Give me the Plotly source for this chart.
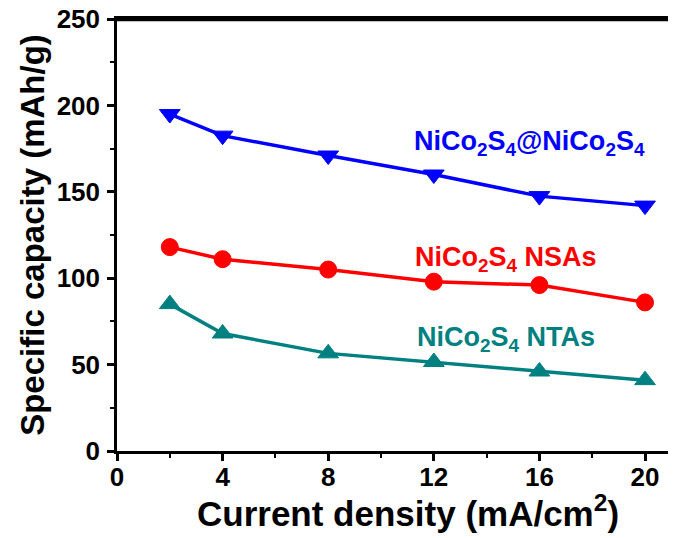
import plotly.graph_objects as go

# Current density (mA/cm^2)
current_density = [2, 4, 8, 12, 16, 20]

# Specific capacity (mAh/g) for each electrode
core_shell = [195, 182.5, 171, 160, 147.5, 142]
nsas = [118, 111, 105, 98, 96, 86]
ntas = [85, 68, 56.5, 51.5, 46, 41]

BLUE = "#0000FF"
RED = "#FF0000"
TEAL = "#008080"
FONT = "Liberation Sans, Arial, sans-serif"

fig = go.Figure()

series = [
    (core_shell, BLUE, "triangle-down", 18),
    (nsas, RED, "circle", 17),
    (ntas, TEAL, "triangle-up", 18),
]
for values, color, symbol, size in series:
    fig.add_trace(go.Scatter(
        x=current_density, y=values, mode="lines+markers",
        line=dict(color=color, width=3.5),
        marker=dict(symbol=symbol, size=size, color=color,
                    line=dict(color=color, width=1)),
        showlegend=False, cliponaxis=False,
    ))

labels = [
    ("NiCo<sub>2</sub>S<sub>4</sub>@NiCo<sub>2</sub>S<sub>4</sub>", BLUE, 11.16, 178),
    ("NiCo<sub>2</sub>S<sub>4</sub> NSAs", RED, 11.2, 111),
    ("NiCo<sub>2</sub>S<sub>4</sub> NTAs", TEAL, 11.29, 65),
]
for text, color, x, y in labels:
    fig.add_annotation(
        x=x, y=y, xref="x", yref="y", text=text, showarrow=False,
        xanchor="left", yanchor="middle",
        font=dict(family=FONT, size=27, color=color, weight="bold"),
    )

# x-axis title
fig.add_annotation(
    x=0.528, y=0, xref="paper", yref="paper", yshift=-60,
    text="Current density (mA/cm<sup>2</sup>)", showarrow=False,
    xanchor="center", yanchor="middle",
    font=dict(family=FONT, size=35, color="black", weight="bold"),
)

# top frame line
fig.add_shape(type="line", xref="x", yref="y", x0=0, x1=20.87, y0=249.4, y1=249.4,
              line=dict(color="black", width=2.5), layer="above")

axis_common = dict(
    showgrid=False, zeroline=False, automargin=False,
    showline=True, linecolor="black", linewidth=2.5,
    ticks="outside", ticklen=7, tickwidth=2.5, tickcolor="black",
    tickfont=dict(family=FONT, size=26, color="black", weight="bold"),
)

fig.update_xaxes(
    range=[0, 20.87], tickvals=[0, 4, 8, 12, 16, 20], mirror=True,
    minor=dict(tickvals=[2, 6, 10, 14, 18], ticks="outside", ticklen=4,
               tickwidth=2, tickcolor="black"),
    ticklabelstandoff=-6,
    **axis_common,
)
fig.update_yaxes(
    range=[0, 250], tickvals=[0, 50, 100, 150, 200, 250],
    minor=dict(tickvals=[25, 75, 125, 175, 225], ticks="outside", ticklen=4,
               tickwidth=2, tickcolor="black"),
    ticklabelstandoff=2,
    title=dict(text="Specific capacity (mAh/g)", standoff=3,
               font=dict(family=FONT, size=33, color="black", weight="bold")),
    **axis_common,
)

fig.update_layout(
    width=689, height=538,
    margin=dict(l=117, r=21, t=19, b=87),
    plot_bgcolor="white", paper_bgcolor="white",
)

fig.write_html("out.html")
